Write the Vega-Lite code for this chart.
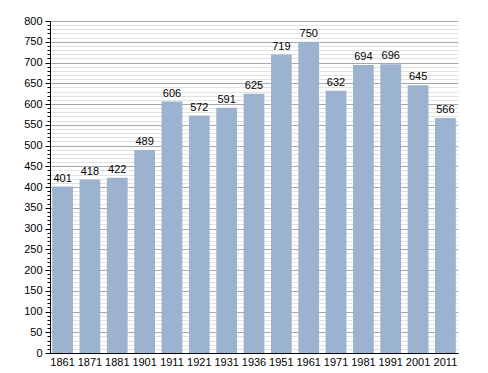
{
  "$schema": "https://vega.github.io/schema/vega-lite/v6.json",
  "width": 408,
  "height": 332,
  "autosize": "none",
  "padding": {"left": 50, "top": 21, "right": 30, "bottom": 20},
  "background": "white",
  "config": {
    "view": {"stroke": null},
    "font": "Liberation Sans"
  },
  "data": {
    "values": [
      {"year": "1861", "pop": 401},
      {"year": "1871", "pop": 418},
      {"year": "1881", "pop": 422},
      {"year": "1901", "pop": 489},
      {"year": "1911", "pop": 606},
      {"year": "1921", "pop": 572},
      {"year": "1931", "pop": 591},
      {"year": "1936", "pop": 625},
      {"year": "1951", "pop": 719},
      {"year": "1961", "pop": 750},
      {"year": "1971", "pop": 632},
      {"year": "1981", "pop": 694},
      {"year": "1991", "pop": 696},
      {"year": "2001", "pop": 645},
      {"year": "2011", "pop": 566}
    ]
  },
  "encoding": {
    "x": {
      "field": "year", "type": "ordinal", "sort": null,
      "scale": {"paddingInner": 0.24, "paddingOuter": 0.08},
      "axis": {
        "title": null, "labelAngle": 0, "ticks": false, "domainColor": "#000000",
        "labelFontSize": 11, "labelColor": "#000000", "labelPadding": 3
      }
    },
    "y": {
      "field": "pop", "type": "quantitative",
      "scale": {"domain": [0, 800], "nice": false},
      "axis": {
        "title": null,
        "values": [0,10,20,30,40,50,60,70,80,90,100,110,120,130,140,150,160,170,180,190,200,210,220,230,240,250,260,270,280,290,300,310,320,330,340,350,360,370,380,390,400,410,420,430,440,450,460,470,480,490,500,510,520,530,540,550,560,570,580,590,600,610,620,630,640,650,660,670,680,690,700,710,720,730,740,750,760,770,780,790,800],
        "labelExpr": "datum.value % 50 === 0 ? datum.label : ''",
        "labelOverlap": false,
        "labelFontSize": 11, "labelColor": "#000000", "labelPadding": 3,
        "domainColor": "#000000",
        "tickColor": "#000000",
        "tickSize": {"condition": {"test": "datum.value % 50 === 0", "value": 5}, "value": 3},
        "grid": true,
        "gridColor": {"condition": {"test": "datum.value % 50 === 0", "value": "#a8a8a8"}, "value": "#e2e2e2"},
        "gridWidth": 1
      }
    }
  },
  "layer": [
    {"mark": {"type": "bar", "color": "#9bb3ce"}},
    {
      "mark": {"type": "text", "baseline": "bottom", "dy": -3, "fontSize": 11, "color": "#000000"},
      "encoding": {"text": {"field": "pop", "type": "quantitative"}}
    }
  ]
}
